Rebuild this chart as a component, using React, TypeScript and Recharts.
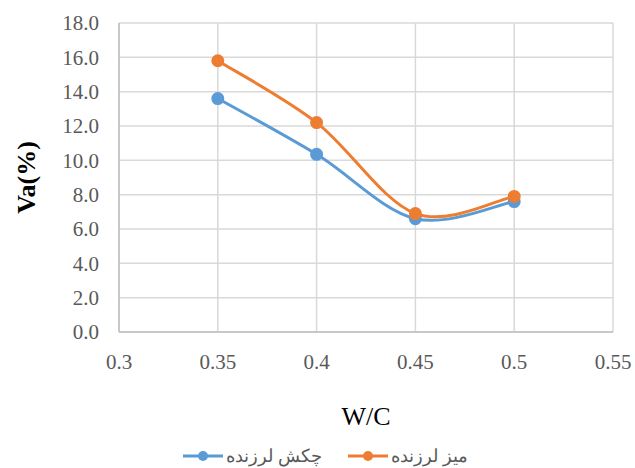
import React from 'react';
import { LineChart, Line, XAxis, YAxis, CartesianGrid, Legend } from 'recharts';

// W/C ratios
const wcRatios = [0.35, 0.4, 0.45, 0.5];
// Va(%) per compaction method
const hammerValues = [13.6, 10.35, 6.6, 7.6];
const tableValues = [15.8, 12.2, 6.9, 7.9];

const seriesNames = ['چکش لرزنده', 'میز لرزنده'];
const seriesColors = ['#5b9bd5', '#ed7d31'];

const xTicks = [0.3, 0.35, 0.4, 0.45, 0.5, 0.55];
const yTicks = [0, 2, 4, 6, 8, 10, 12, 14, 16, 18];

const data = wcRatios.map((wc, i) => ({
  wc,
  hammer: hammerValues[i],
  table: tableValues[i],
}));

const serif = '"Liberation Serif", "Times New Roman", serif';

// Excel-like smoothed line (Catmull-Rom style)
const excelCurve = (context: any) => {
  let pts: [number, number][] = [];
  return {
    areaStart() {},
    areaEnd() {},
    lineStart() { pts = []; },
    point(x: number, y: number) { pts.push([+x, +y]); },
    lineEnd() {
      if (!pts.length) return;
      context.moveTo(pts[0][0], pts[0][1]);
      for (let i = 0; i < pts.length - 1; i++) {
        const p0 = pts[Math.max(i - 1, 0)];
        const p1 = pts[i];
        const p2 = pts[i + 1];
        const p3 = pts[Math.min(i + 2, pts.length - 1)];
        context.bezierCurveTo(
          p1[0] + (p2[0] - p0[0]) / 6, p1[1] + (p2[1] - p0[1]) / 6,
          p2[0] - (p3[0] - p1[0]) / 6, p2[1] - (p3[1] - p1[1]) / 6,
          p2[0], p2[1]
        );
      }
    },
  };
};

const LegendContent = () => (
  <div style={{ display: 'flex', justifyContent: 'center', gap: 26, fontFamily: '"Liberation Sans", Arial, sans-serif', fontSize: 18, lineHeight: '22px', color: '#595959', marginLeft: 38, marginTop: 7 }}>
    {seriesNames.map((name, i) => (
      <div key={name} style={{ display: 'flex', alignItems: 'center' }}>
        <svg width={40} height={12}>
          <line x1={0} y1={6} x2={40} y2={6} stroke={seriesColors[i]} strokeWidth={3} />
          <circle cx={20} cy={6} r={5} fill={seriesColors[i]} />
        </svg>
        <span style={{ direction: 'rtl', marginLeft: 3 }}>{name}</span>
      </div>
    ))}
  </div>
);

export default function App() {
  return (
    <div style={{ position: 'fixed', left: 0, top: 0, width: 635, height: 468, overflow: 'hidden', background: '#fff', fontFamily: serif }}>
      <LineChart width={635} height={468} data={data} margin={{ top: 23, right: 22, left: 0, bottom: 0 }} style={{ fontFamily: serif }}>
        <CartesianGrid stroke="#d9d9d9" strokeWidth={1.5} />
        <XAxis
          type="number"
          dataKey="wc"
          domain={[0.3, 0.55]}
          ticks={xTicks}
          tickFormatter={(v) => String(v)}
          stroke="#bfbfbf"
          strokeWidth={1.5}
          tickLine={false}
          tickMargin={16}
          height={106}
          tick={{ fill: '#595959', fontSize: 21, fontFamily: serif }}
          label={{ value: 'W/C', position: 'insideBottom', offset: 13, fill: '#000', fontSize: 26, fontFamily: serif }}
        />
        <YAxis
          domain={[0, 18]}
          ticks={yTicks}
          tickFormatter={(v) => v.toFixed(1)}
          stroke="#bfbfbf"
          strokeWidth={1.5}
          tickLine={false}
          tickMargin={14}
          width={119}
          tick={{ fill: '#595959', fontSize: 21, fontFamily: serif }}
          label={{ value: 'Va(%)', angle: -90, position: 'insideLeft', offset: 26, fill: '#000', fontSize: 26, fontWeight: 'bold', fontFamily: serif, style: { textAnchor: 'middle' } }}
        />
        <Legend verticalAlign="bottom" height={30} content={<LegendContent />} />
        <Line
          type={excelCurve as any}
          dataKey="hammer"
          name={seriesNames[0]}
          stroke={seriesColors[0]}
          strokeWidth={3}
          dot={{ r: 5, fill: seriesColors[0], stroke: seriesColors[0] }}
          isAnimationActive={false}
        />
        <Line
          type={excelCurve as any}
          dataKey="table"
          name={seriesNames[1]}
          stroke={seriesColors[1]}
          strokeWidth={3}
          dot={{ r: 5, fill: seriesColors[1], stroke: seriesColors[1] }}
          isAnimationActive={false}
        />
      </LineChart>
    </div>
  );
}
